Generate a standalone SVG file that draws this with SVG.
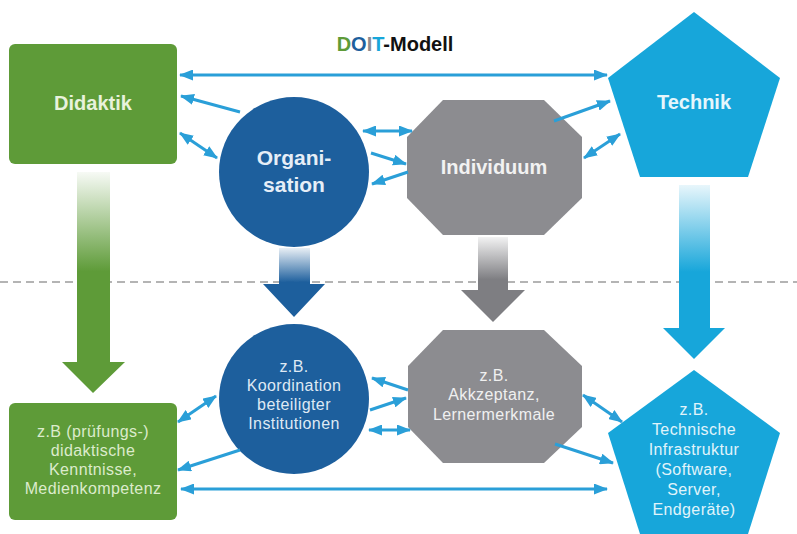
<svg xmlns="http://www.w3.org/2000/svg" width="797" height="534" viewBox="0 0 797 534">
<defs>
<style>
.conn{stroke:#2a9fd8;stroke-width:3;fill:none}
.lbl{font-family:"Liberation Sans",Arial,sans-serif;font-weight:bold;text-anchor:middle}
.sub{font-family:"Liberation Sans",Arial,sans-serif;font-size:16px;letter-spacing:0.4px;text-anchor:middle}
</style>
<marker id="ah" viewBox="0 0 14 11" refX="13" refY="5.5" markerWidth="14" markerHeight="11" markerUnits="userSpaceOnUse" orient="auto-start-reverse">
<path d="M0,0 L14,5.5 L0,11 Z" fill="#2a9fd8"/>
</marker>
<linearGradient id="gG" x1="0" y1="0" x2="0" y2="1"><stop offset="0" stop-color="#5e9b38" stop-opacity="0.05"/><stop offset="0.45" stop-color="#5e9b38"/><stop offset="1" stop-color="#5e9b38"/></linearGradient>
<linearGradient id="gB" x1="0" y1="0" x2="0" y2="1"><stop offset="0" stop-color="#1d5f9d" stop-opacity="0.1"/><stop offset="0.5" stop-color="#1d5f9d"/><stop offset="1" stop-color="#1d5f9d"/></linearGradient>
<linearGradient id="gA" x1="0" y1="0" x2="0" y2="1"><stop offset="0" stop-color="#7e7e82" stop-opacity="0.1"/><stop offset="0.5" stop-color="#7e7e82"/><stop offset="1" stop-color="#7e7e82"/></linearGradient>
<linearGradient id="gC" x1="0" y1="0" x2="0" y2="1"><stop offset="0" stop-color="#17a6da" stop-opacity="0.1"/><stop offset="0.5" stop-color="#17a6da"/><stop offset="1" stop-color="#17a6da"/></linearGradient>
</defs>
<rect width="797" height="534" fill="#ffffff"/>
<line x1="0" y1="282" x2="797" y2="282" stroke="#b4b4b4" stroke-width="2" stroke-dasharray="8,5"/>
<text x="395" y="51" class="lbl" font-size="20"><tspan fill="#5e9b38">D</tspan><tspan fill="#1d5f9d">O</tspan><tspan fill="#8c8c90">I</tspan><tspan fill="#17a6da">T</tspan><tspan fill="#111111">-Modell</tspan></text>
<g id="arrow-didaktik"><path d="M77,172 H110 V362 H125 L93,393 L62,362 H77 Z" fill="url(#gG)"/></g>
<g id="arrow-organisation"><path d="M279,248 H310 V284 H325 L294,317 L263,284 H279 Z" fill="url(#gB)"/></g>
<g id="arrow-individuum"><path d="M478,237 H508 V290 H525 L493,322 L461,290 H478 Z" fill="url(#gA)"/></g>
<g id="arrow-technik"><path d="M679,185 H710 V328 H725 L694,359 L663,328 H679 Z" fill="url(#gC)"/></g>
<g id="didaktik"><rect x="9" y="44" width="168" height="120" rx="6" fill="#5e9b38"/><text x="93" y="110" class="lbl" font-size="20" fill="#e8f2dc">Didaktik</text></g>
<g id="organisation"><circle cx="294" cy="172" r="75" fill="#1d5f9d"/><text x="294" y="165" class="lbl" font-size="21" fill="#e6eef7">Organi-</text><text x="294" y="192" class="lbl" font-size="21" fill="#e6eef7">sation</text></g>
<g id="individuum"><polygon points="443,100 544,100 582,137 582,198 544,235 443,235 407,198 407,137" fill="#8c8c90"/><text x="494" y="174" class="lbl" font-size="20" fill="#f2f2f2">Individuum</text></g>
<g id="technik"><polygon points="694,12 780,78 748,177 640,177 608,78" fill="#17a6da"/><text x="694" y="109" class="lbl" font-size="20" fill="#e6f6fc">Technik</text></g>
<g id="didaktik-bsp"><rect x="9" y="403" width="168" height="117" rx="6" fill="#5e9b38"/><text class="sub" fill="#dcebcc"><tspan x="93" y="437">z.B (prüfungs-)</tspan><tspan x="93" y="456">didaktische</tspan><tspan x="93" y="475">Kenntnisse,</tspan><tspan x="93" y="494">Medienkompetenz</tspan></text></g>
<g id="organisation-bsp"><circle cx="294" cy="399" r="75" fill="#1d5f9d"/><text class="sub" fill="#dfe9f4"><tspan x="294" y="372">z.B.</tspan><tspan x="294" y="391">Koordination</tspan><tspan x="294" y="410">beteiligter</tspan><tspan x="294" y="429">Institutionen</tspan></text></g>
<g id="individuum-bsp"><polygon points="443,330 544,330 582,366 582,427 544,463 443,463 408,427 408,366" fill="#8c8c90"/><text class="sub" fill="#f0f0f0"><tspan x="494" y="381">z.B.</tspan><tspan x="494" y="400">Akkzeptanz,</tspan><tspan x="494" y="420">Lernermerkmale</tspan></text></g>
<g id="technik-bsp"><polygon points="694,370 780,433 748,534 640,534 608,433" fill="#17a6da"/><text class="sub" fill="#e0f4fb"><tspan x="694" y="415">z.B.</tspan><tspan x="694" y="435">Technische</tspan><tspan x="694" y="455">Infrastruktur</tspan><tspan x="694" y="475">(Software,</tspan><tspan x="694" y="495">Server,</tspan><tspan x="694" y="515">Endgeräte)</tspan></text></g>
<g id="connectors">
<line class="conn" x1="180" y1="75" x2="607" y2="75" marker-start="url(#ah)" marker-end="url(#ah)"/>
<line class="conn" x1="240" y1="112" x2="181" y2="96" marker-end="url(#ah)"/>
<line class="conn" x1="180" y1="133" x2="217" y2="158" marker-start="url(#ah)" marker-end="url(#ah)"/>
<line class="conn" x1="363" y1="131" x2="412" y2="131" marker-start="url(#ah)" marker-end="url(#ah)"/>
<line class="conn" x1="371" y1="153" x2="406" y2="164" marker-end="url(#ah)"/>
<line class="conn" x1="408" y1="172" x2="372" y2="184" marker-end="url(#ah)"/>
<line class="conn" x1="554" y1="121" x2="610" y2="101" marker-end="url(#ah)"/>
<line class="conn" x1="584" y1="158" x2="620" y2="134" marker-start="url(#ah)" marker-end="url(#ah)"/>
<line class="conn" x1="181" y1="489" x2="607" y2="489" marker-start="url(#ah)" marker-end="url(#ah)"/>
<line class="conn" x1="178" y1="422" x2="216" y2="396" marker-start="url(#ah)" marker-end="url(#ah)"/>
<line class="conn" x1="240" y1="450" x2="178" y2="470" marker-end="url(#ah)"/>
<line class="conn" x1="408" y1="390" x2="372" y2="378" marker-end="url(#ah)"/>
<line class="conn" x1="370" y1="410" x2="406" y2="398" marker-end="url(#ah)"/>
<line class="conn" x1="369" y1="430" x2="410" y2="430" marker-start="url(#ah)" marker-end="url(#ah)"/>
<line class="conn" x1="583" y1="395" x2="622" y2="422" marker-start="url(#ah)" marker-end="url(#ah)"/>
<line class="conn" x1="555" y1="444" x2="613" y2="463" marker-end="url(#ah)"/>
</g>
</svg>
